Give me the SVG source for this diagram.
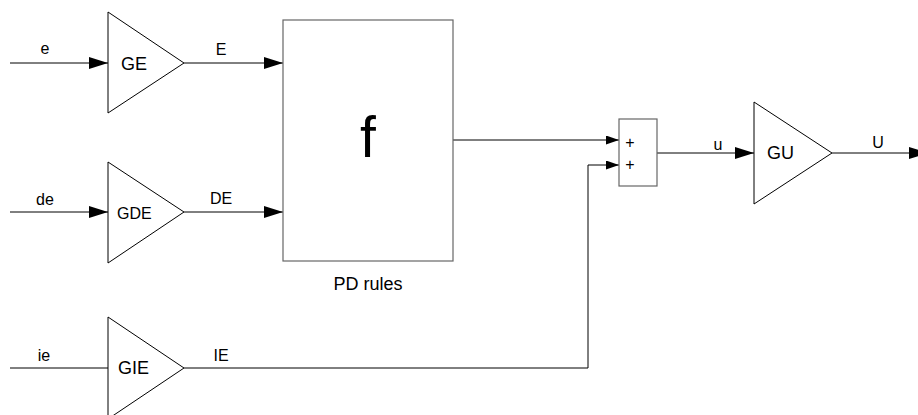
<svg xmlns="http://www.w3.org/2000/svg" width="918" height="415" viewBox="0 0 918 415">
<defs>
<style>
text{font-family:"Liberation Sans",Arial,sans-serif;fill:#000}
.lbl{font-size:16px}
.gain{font-size:18px}
.plus{font-size:16px}
.tri{fill:#fff;stroke:#000;stroke-width:1}
.box{fill:#fff;stroke:#666;stroke-width:1.2}
.wire{fill:none;stroke:#000;stroke-width:1}
</style>
<marker id="arr" markerUnits="userSpaceOnUse" markerWidth="19" markerHeight="12" refX="19" refY="6" orient="auto"><path d="M0 0L19 6L0 12Z" fill="#000"/></marker>
<marker id="arrs" markerUnits="userSpaceOnUse" markerWidth="13" markerHeight="9" refX="13" refY="4.5" orient="auto"><path d="M0 0L13 4.5L0 9Z" fill="#000"/></marker>
</defs>
<rect width="918" height="415" fill="#fff"/>
<g id="connectors">
<path class="wire" d="M10 63H108" marker-end="url(#arr)"/>
<path class="wire" d="M184 63H283" marker-end="url(#arr)"/>
<path class="wire" d="M10 212H108" marker-end="url(#arr)"/>
<path class="wire" d="M184 212H283" marker-end="url(#arr)"/>
<path class="wire" d="M10 368H108"/>
<path class="wire" d="M184 368H588V165H619" marker-end="url(#arrs)"/>
<path class="wire" d="M453 140H619" marker-end="url(#arrs)"/>
<path class="wire" d="M657 153H754" marker-end="url(#arr)"/>
<path class="wire" d="M832 153H928" marker-end="url(#arr)"/>
<text class="lbl" x="45" y="54" text-anchor="middle">e</text>
<text class="lbl" x="221" y="55" text-anchor="middle">E</text>
<text class="lbl" x="45" y="205" text-anchor="middle">de</text>
<text class="lbl" x="221" y="204" text-anchor="middle">DE</text>
<text class="lbl" x="44" y="361" text-anchor="middle">ie</text>
<text class="lbl" x="221" y="361" text-anchor="middle">IE</text>
<text class="lbl" x="718" y="150" text-anchor="middle">u</text>
<text class="lbl" x="878" y="148" text-anchor="middle">U</text>
</g>
<g id="GE">
<polygon class="tri" points="108,12 108,113 184,63"/>
<text class="gain" x="121" y="69.5">GE</text>
</g>
<g id="GDE">
<polygon class="tri" points="108,162 108,263 184,212"/>
<text class="lbl" x="117" y="218.5">GDE</text>
</g>
<g id="GIE">
<polygon class="tri" points="108,317 108,419 184,368"/>
<text class="gain" x="118" y="373.5">GIE</text>
</g>
<g id="PD">
<rect class="box" x="283" y="20" width="170" height="241"/>
<text x="368" y="157" text-anchor="middle" style="font-size:57px">f</text>
<text class="gain" x="368" y="290" text-anchor="middle">PD rules</text>
</g>
<g id="sum">
<rect class="box" x="619" y="119" width="38" height="67"/>
<text class="plus" x="630" y="147.5" text-anchor="middle">+</text>
<text class="plus" x="630" y="170" text-anchor="middle">+</text>
</g>
<g id="GU">
<polygon class="tri" points="754,102 754,204 832,153"/>
<text class="gain" x="767" y="159">GU</text>
</g>
</svg>
